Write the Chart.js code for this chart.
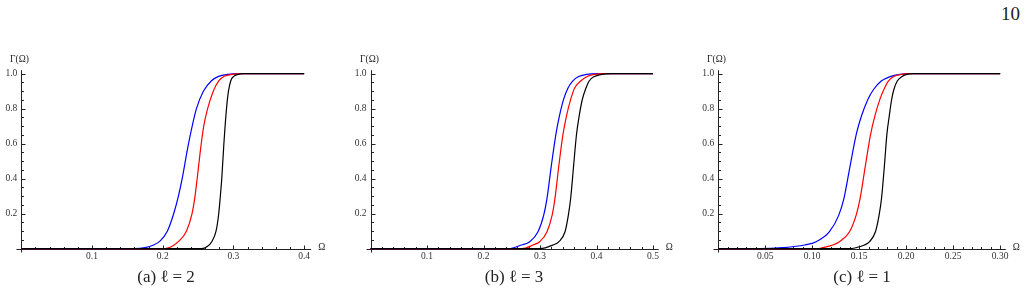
<!DOCTYPE html>
<html>
<head>
<meta charset="utf-8">
<script src="https://cdn.jsdelivr.net/npm/chart.js@4.4.0/dist/chart.umd.min.js"></script>
<style>
  body { margin: 0; background: #fff; width: 1028px; height: 291px; overflow: hidden; position: relative; font-family: "Liberation Serif", serif; }
  canvas { position: absolute; top: 40px; }
  .caption { position: absolute; top: 267px; font-size: 17px; line-height: 20px; color: #222; transform: translateX(-50%); white-space: nowrap; }
  .caption .eq { margin: 0 4px; }
  .page { position: absolute; left: 1001px; top: 3px; font-size: 19px; line-height: 22px; color: #222; }
</style>
</head>
<body>
<div class="page">10</div>
<canvas id="chartA" width="340" height="230" style="left:0px"></canvas>
<canvas id="chartB" width="340" height="230" style="left:340px"></canvas>
<canvas id="chartC" width="348" height="230" style="left:680px"></canvas>
<div class="caption" style="left:166px">(a) ℓ<span class="eq">=</span>2</div>
<div class="caption" style="left:514px">(b) ℓ<span class="eq">=</span>3</div>
<div class="caption" style="left:862px">(c) ℓ<span class="eq">=</span>1</div>
<script>
// ---- data ---------------------------------------------------------------

// (a) l = 2
const omegaA_blue  = [0, 0.16, 0.175, 0.187, 0.1965, 0.2065, 0.2155, 0.2222, 0.2275, 0.2365, 0.2477, 0.2575, 0.269, 0.279, 0.292, 0.308, 0.4];
const gammaA_blue  = [0, 0, 0.006, 0.021, 0.045, 0.1, 0.2, 0.3, 0.4, 0.6, 0.8, 0.9, 0.96, 0.985, 0.996, 1, 1];
const omegaA_red   = [0, 0.2, 0.208, 0.214, 0.222, 0.2335, 0.2415, 0.2457, 0.2487, 0.2545, 0.258, 0.2635, 0.2715, 0.2795, 0.287, 0.2985, 0.311, 0.4];
const gammaA_red   = [0, 0, 0.005, 0.015, 0.04, 0.1, 0.2, 0.3, 0.4, 0.6, 0.7, 0.8, 0.9, 0.96, 0.985, 0.996, 1, 1];
const omegaA_black = [0, 0.255, 0.263, 0.2693, 0.2754, 0.2792, 0.2815, 0.2835, 0.2865, 0.2902, 0.293, 0.2963, 0.3005, 0.3065, 0.314, 0.4];
const gammaA_black = [0, 0, 0.012, 0.04, 0.1, 0.2, 0.3, 0.4, 0.6, 0.8, 0.9, 0.96, 0.985, 0.996, 1, 1];

// (b) l = 3
const omegaB_blue  = [0, 0.245, 0.267, 0.2818, 0.2965, 0.3066, 0.3124, 0.3202, 0.3285, 0.3345, 0.342, 0.3498, 0.3578, 0.3675, 0.3826, 0.403, 0.5];
const gammaB_blue  = [0, 0, 0.021, 0.04, 0.097, 0.192, 0.288, 0.478, 0.66, 0.76, 0.856, 0.92, 0.958, 0.983, 0.996, 1, 1];
const omegaB_red   = [0, 0.268, 0.2876, 0.2995, 0.3124, 0.3215, 0.3265, 0.3335, 0.3405, 0.347, 0.3545, 0.3615, 0.372, 0.3826, 0.397, 0.415, 0.5];
const gammaB_red   = [0, 0, 0.021, 0.04, 0.097, 0.192, 0.288, 0.478, 0.65, 0.76, 0.856, 0.92, 0.958, 0.983, 0.996, 1, 1];
const omegaB_black = [0, 0.3, 0.323, 0.3336, 0.3443, 0.3502, 0.3543, 0.3596, 0.3645, 0.3693, 0.375, 0.3805, 0.387, 0.3956, 0.409, 0.427, 0.5];
const gammaB_black = [0, 0, 0.021, 0.04, 0.097, 0.192, 0.288, 0.478, 0.65, 0.758, 0.854, 0.911, 0.958, 0.983, 0.996, 1, 1];

// (c) l = 1
const omegaC_blue  = [0, 0.045, 0.0687, 0.0918, 0.1043, 0.1184, 0.1283, 0.1338, 0.1405, 0.1472, 0.1525, 0.1595, 0.1655, 0.1735, 0.1828, 0.1934, 0.2022, 0.3];
const gammaC_blue  = [0, 0, 0.006, 0.021, 0.04, 0.097, 0.192, 0.288, 0.478, 0.66, 0.76, 0.856, 0.911, 0.958, 0.983, 0.996, 1, 1];
const omegaC_red   = [0, 0.105, 0.1113, 0.1219, 0.129, 0.1397, 0.1468, 0.151, 0.1567, 0.1622, 0.1668, 0.1722, 0.1764, 0.181, 0.1863, 0.1952, 0.204, 0.3];
const gammaC_red   = [0, 0, 0.006, 0.021, 0.04, 0.097, 0.192, 0.288, 0.478, 0.655, 0.76, 0.856, 0.911, 0.958, 0.983, 0.996, 1, 1];
const omegaC_black = [0, 0.14, 0.1468, 0.1556, 0.161, 0.1673, 0.1712, 0.1738, 0.1769, 0.1795, 0.182, 0.1846, 0.187, 0.1905, 0.1952, 0.2005, 0.2076, 0.3];
const gammaC_black = [0, 0, 0.006, 0.021, 0.04, 0.097, 0.192, 0.288, 0.478, 0.655, 0.758, 0.854, 0.911, 0.958, 0.983, 0.996, 1, 1];

// tick labels
const yTicks  = [0.2, 0.4, 0.6, 0.8, 1.0];
const xTicksA = [0.1, 0.2, 0.3, 0.4];
const xTicksB = [0.1, 0.2, 0.3, 0.4, 0.5];
const xTicksC = [0.05, 0.10, 0.15, 0.20, 0.25, 0.30];

// -----------------------------------------------------------------------

const tickFont = { family: "Liberation Serif", size: 9.5 };
const axisColor = "#222";

const toPoints = (xs, ys) => xs.map((x, i) => ({ x, y: ys[i] }));

// Mathematica-style axes: crossing at origin, ticks pointing inward
const mathAxes = {
    id: "mathAxes",
    beforeDatasetsDraw(chart, args, opts) {
        const { ctx, chartArea } = chart;
        const { x, y } = chart.scales;
        const x0 = Math.round(x.getPixelForValue(0)) + 0.5;
        const y0 = Math.round(y.getPixelForValue(0)) + 0.5;

        ctx.save();
        ctx.strokeStyle = axisColor;
        ctx.lineWidth = 1;
        ctx.beginPath();
        ctx.moveTo(x0 - 5, y0);
        ctx.lineTo(chartArea.right, y0);
        ctx.moveTo(x0, y0 + 3);
        ctx.lineTo(x0, chartArea.top);

        // x ticks
        const nx = Math.round(opts.xMax / opts.xMinor);
        for (let i = 1; i <= nx; i++) {
            const v = i * opts.xMinor;
            if (v > opts.xMax + 1e-9) break;
            const px = Math.round(x.getPixelForValue(v)) + 0.5;
            const major = i % opts.xEvery == 0;
            ctx.moveTo(px, y0);
            ctx.lineTo(px, y0 - (major ? 4 : 2.5));
        }
        // y ticks
        for (let i = 1; i <= 20; i++) {
            const v = i * 0.05;
            const py = Math.round(y.getPixelForValue(v)) + 0.5;
            const major = i % 4 == 0;
            ctx.moveTo(x0, py);
            ctx.lineTo(x0 + (major ? 4 : 2.5), py);
        }
        ctx.stroke();

        // axis labels
        ctx.fillStyle = axisColor;
        ctx.font = "9.5px 'Liberation Serif'";
        ctx.textBaseline = "middle";
        ctx.textAlign = "center";
        ctx.fillText("Γ(Ω)", x0 - 2, y.getPixelForValue(1) - 14.5);
        ctx.textAlign = "left";
        ctx.fillText("Ω", chartArea.right + 7, y0 - 2);
        ctx.restore();
    }
};

function makePanel(id, cfg) {
    const ctx = document.getElementById(id).getContext("2d");
    const line = (label, xs, ys, color) => ({
        label,
        data: toPoints(xs, ys),
        borderColor: color,
        borderWidth: 1.2,
        pointRadius: 0,
        fill: false,
        clip: false,
        cubicInterpolationMode: "monotone"
    });

    return new Chart(ctx, {
        type: "line",
        data: {
            datasets: [
                line("black", cfg.black[0], cfg.black[1], "#000000"),
                line("red", cfg.red[0], cfg.red[1], "#ff0000"),
                line("blue", cfg.blue[0], cfg.blue[1], "#0000ff")
            ]
        },
        options: {
            responsive: false,
            animation: false,
            devicePixelRatio: 1,
            layout: { padding: { left: 0, top: 30.2, right: cfg.padRight, bottom: 0 } },
            scales: {
                x: {
                    type: "linear",
                    min: 0,
                    max: cfg.xMax,
                    afterFit: s => { s.height = 21.3; },
                    afterBuildTicks: s => { s.ticks = cfg.xTicks.map(v => ({ value: v })); },
                    ticks: {
                        callback: v => v.toFixed(cfg.digits),
                        font: tickFont,
                        color: "#333",
                        padding: 2,
                        maxRotation: 0,
                        autoSkip: false
                    },
                    grid: { display: false, drawTicks: false },
                    border: { display: false }
                },
                y: {
                    type: "linear",
                    min: 0,
                    max: 1.02,
                    afterFit: s => { s.width = cfg.yAxisW; },
                    afterBuildTicks: s => { s.ticks = yTicks.map(v => ({ value: v })); },
                    ticks: {
                        callback: v => v.toFixed(1),
                        font: tickFont,
                        color: "#333",
                        padding: 4,
                        autoSkip: false
                    },
                    grid: { display: false, drawTicks: false },
                    border: { display: false }
                }
            },
            plugins: {
                legend: { display: false },
                tooltip: { enabled: false },
                mathAxes: { xMax: cfg.xMax, xMinor: cfg.xMinor, xEvery: cfg.xEvery }
            }
        },
        plugins: [mathAxes]
    });
}

makePanel("chartA", {
    blue: [omegaA_blue, gammaA_blue], red: [omegaA_red, gammaA_red], black: [omegaA_black, gammaA_black],
    xTicks: xTicksA, digits: 1, xMax: 0.41, xMinor: 0.02, xEvery: 5, yAxisW: 21.3, padRight: 28.8
});

makePanel("chartB", {
    blue: [omegaB_blue, gammaB_blue], red: [omegaB_red, gammaB_red], black: [omegaB_black, gammaB_black],
    xTicks: xTicksB, digits: 1, xMax: 0.51, xMinor: 0.02, xEvery: 5, yAxisW: 30.5, padRight: 21.35
});

makePanel("chartC", {
    blue: [omegaC_blue, gammaC_blue], red: [omegaC_red, gammaC_red], black: [omegaC_black, gammaC_black],
    xTicks: xTicksC, digits: 2, xMax: 0.306, xMinor: 0.01, xEvery: 5, yAxisW: 38.2, padRight: 22.2
});
</script>
</body>
</html>
